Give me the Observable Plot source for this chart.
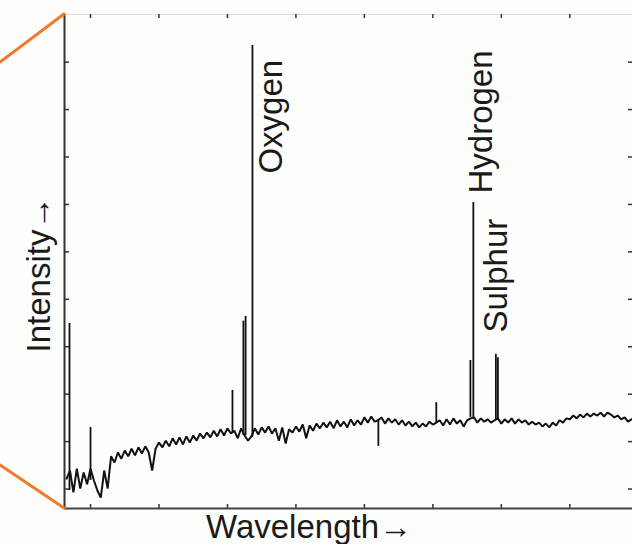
<!DOCTYPE html>
<html><head><meta charset="utf-8">
<script src="https://cdn.jsdelivr.net/npm/d3@7"></script>
<script src="https://cdn.jsdelivr.net/npm/@observablehq/plot@0.6"></script>
<style>
html,body{margin:0;padding:0;background:#fdfdfb;overflow:hidden;width:632px;height:544px}
#chart{position:relative;width:632px;height:544px;overflow:hidden}
</style></head><body><div id="chart"></div>
<script>
// Continuum of the spectrum (wavelength, intensity)
const wavelength = [265,270,275,280,285,290,295,300,305,310,315,320,325,
330,335,340,345,350,355,360,365,370,375,380,385,390,395,
400,405,410,415,420,425,430,435,440,445,450,455,460,465,470,475,480,485,490,495,
500,505,510,515,520,525,530,535,540,545,550,555,560,565,570,575,580,585,590,595,
600,605,610,615,620,625,630,635,640,645,650,655,660,665,670,675,680,685,690,695,
700,705,710,715,720,725,730,735,740,745,750,755,760,765,770,775,780,785,790,795,
800,805,810,815,820,825,830,835,840,845,850,855,860,865,870,875,880,885,890,895,
900,905,910,915,920,925,930,935,940,945,950,955,960,965,970,975,980,985,990,995,
1000,1005,1010,1015,1020,1025,1030,1035,1040,1045,1050,1055,1060,1065,1070,1075,1080,1085,1090];
const intensity = [63,80,34,84,42,76,51,84,59,38,23,80,42,
110,97,118,105,122,110,126,112,129,116,131,118,80,126,
139,129,143,131,148,135,150,135,152,139,154,143,158,148,160,150,164,152,167,154,
169,158,164,148,169,154,143,152,169,156,171,160,173,158,169,143,171,137,167,160,
173,162,177,148,175,164,179,169,181,171,183,169,186,173,183,171,188,175,186,177,
192,181,194,183,186,192,179,190,181,188,177,186,175,183,173,181,171,179,173,183,
177,181,186,175,188,177,190,179,186,173,186,190,192,181,190,183,188,181,186,190,
179,188,181,190,179,188,181,186,177,183,177,181,173,179,171,181,175,186,181,190,
188,196,190,198,192,200,194,200,196,202,194,202,198,192,196,188,192,183,188];

// Narrow emission lines (and one absorption dip)
const lineWavelength = [269.3, 300, 507.3, 523.3, 526.5, 536.5, 720.4, 805, 854.8, 859.1, 892, 895];
const lineBase       = [38, 59, 158, 154, 154, 150, 186, 181, 192, 192, 186, 186];
const lineTop        = [390, 171, 249, 395, 405, 976, 131, 223, 312, 645, 325, 318];

// Element labels
const labels = ["Oxygen", "Hydrogen", "Sulphur"];
const labelWavelength = [564.8, 871.4, 893.3];
const labelIntensity = [706, 664, 371];

// Tick positions (unlabelled)
const xTicks = [300, 400, 500, 600, 700, 800, 900, 1000];
const yTicks = [41, 141, 241, 341, 441, 541, 641, 741, 841, 941];

const xTitle = "Wavelength\u2192";
const yTitle = "Intensity\u2192";

const W = 634, H = 544, mL = 64, mR = 1, mT = 14, mB = 36;
const plotW = W - mL - mR, plotH = H - mT - mB;
const xDomain = [262, 1093], yDomain = [0, 1041.4];

const spectrum = wavelength.map((w, i) => ({w, v: intensity[i]}));
const peaks = lineWavelength.map((w, i) => ({w, base: lineBase[i], top: lineTop[i]}));
const labelData = labels.map((t, i) => ({t, w: labelWavelength[i], v: labelIntensity[i]}));

const font = "'Liberation Sans', Arial, Helvetica, sans-serif";
const axisColor = "#333";

const plot = Plot.plot({
  width: W, height: H,
  marginLeft: mL, marginRight: mR, marginTop: mT, marginBottom: mB,
  style: {background: "transparent", fontFamily: font, maxWidth: "none", overflow: "hidden"},
  x: {domain: xDomain, axis: null},
  y: {domain: yDomain, axis: null},
  marks: [
    Plot.ruleY([yDomain[1]], {stroke: "#dcdcdc", strokeWidth: 1}),
    Plot.tickX(xTicks, {x: d => d, insetBottom: plotH - 4, stroke: axisColor, strokeWidth: 1.5}),
    Plot.tickX(xTicks, {x: d => d, insetTop: plotH - 4, stroke: axisColor, strokeWidth: 1.5}),
    Plot.tickY(yTicks, {y: d => d, insetRight: plotW - 5, stroke: axisColor, strokeWidth: 1.5}),
    Plot.tickY(yTicks, {y: d => d, insetLeft: plotW - 5, stroke: axisColor, strokeWidth: 1.5}),
    Plot.line(spectrum, {x: "w", y: "v", stroke: "#111", strokeWidth: 2, strokeLinejoin: "miter"}),
    Plot.ruleX(peaks, {x: "w", y1: "base", y2: "top", stroke: "#111", strokeWidth: 1.8}),
    Plot.ruleX([xDomain[0]], {stroke: axisColor, strokeWidth: 2}),
    Plot.ruleY([yDomain[0]], {stroke: "#444", strokeWidth: 2}),
    Plot.text(labelData, {x: "w", y: "v", text: "t", rotate: -90, textAnchor: "start",
      lineAnchor: "middle", fontSize: 33, fill: "#1a1a1a"}),
    Plot.text([xTitle], {text: d => d, frameAnchor: "bottom", textAnchor: "middle", lineAnchor: "middle",
      dx: -40, dy: 19.4, fontSize: 33, fill: "#1a1a1a"}),
    Plot.text([yTitle], {text: d => d, frameAnchor: "left", rotate: -90, textAnchor: "middle", lineAnchor: "middle",
      dx: -24.6, dy: 13, fontSize: 33, fill: "#1a1a1a"})
  ]
});

// Orange zoom guides in the left margin, derived from the frame corners
const svg = d3.select(plot);
const guide = svg.append("g").attr("stroke", "#f07a2c").attr("stroke-width", 3).attr("stroke-linecap", "round");
guide.append("line").attr("x1", 0).attr("y1", mT + 48).attr("x2", mL).attr("y2", mT);
guide.append("line").attr("x1", 0).attr("y1", H - mB - 43).attr("x2", mL).attr("y2", H - mB);

document.getElementById("chart").appendChild(plot);
</script>
</body></html>
